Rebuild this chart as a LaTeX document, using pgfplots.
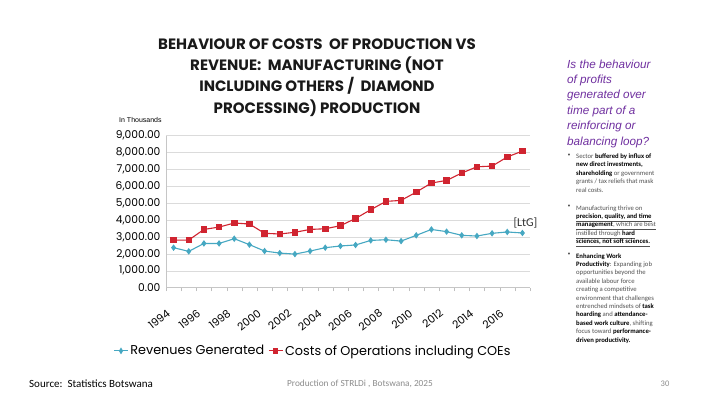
\documentclass[border=0pt]{standalone}
\usepackage{pgfplots}
\pgfplotsset{compat=1.18}
\usepackage{fontspec}
\setmainfont{Carlito}
\newfontfamily\chartfont{Poppins}
\newfontfamily\titlefont{Poppins}
\newfontfamily\arialfont{Liberation Sans}
\newfontfamily\dejavu{DejaVu Sans}
\definecolor{revcol}{RGB}{70,168,194}
\definecolor{costcol}{RGB}{208,36,48}
\definecolor{qpurple}{RGB}{112,48,160}
\definecolor{bodygray}{RGB}{80,80,80}
\newcommand{\B}[1]{{\bfseries\color{black}#1}}
\begin{document}
\begin{tikzpicture}
\useasboundingbox[fill=white] (0pt,0pt) rectangle (710pt,399pt);
% title
\node[font=\titlefont\bfseries\fontsize{15}{21.4}\selectfont, align=center, text=black!90] at (317pt,321.5pt)
 {BEHAVIOUR OF COSTS\ \ OF PRODUCTION VS\\REVENUE:\ \ MANUFACTURING (NOT\\INCLUDING OTHERS / \ DIAMOND\\PROCESSING) PRODUCTION};
\node[font=\arialfont\fontsize{7}{8}\selectfont, anchor=west, inner sep=0] at (119pt,279pt) {In Thousands};

\begin{axis}[
  at={(166pt,111.3pt)}, anchor=south west,
  scale only axis, width=364pt, height=152pt,
  xmin=1993.5, xmax=2017.5, ymin=0, ymax=9000,
  ytick={0,1000,...,9000},
  xtick={1994,1996,...,2016},
  minor xtick={1993.5,1994.5,...,2017.5},
  x tick label style={/pgf/number format/1000 sep={}},
  yticklabel={\pgfmathprintnumber[fixed,fixed zerofill,precision=2,1000 sep={,}]{\tick}},
  /pgf/number format/assume math mode=true,
  axis x line*=bottom, axis y line*=left,
  axis line style={gray!45},
  ymajorgrids, grid style={gray!28, line width=0.6pt},
  major tick length=0pt, minor tick length=3.5pt, tick align=outside,
  minor x tick style={gray!50},
  tick label style={font=\chartfont\fontsize{10.7}{12}\selectfont},
  xticklabel style={xshift=-5pt, yshift=-24pt, rotate=38, anchor=east, inner sep=0pt},
  yticklabel style={xshift=-2pt},
  legend style={at={(0.404,-0.416)}, anchor=center, draw=none, fill=none,
    legend columns=2, font=\chartfont\fontsize{12.8}{13}\selectfont,
    /tikz/every even column/.append style={column sep=2pt}},
  legend image post style={xscale=0.8},
  legend cell align=left,
  clip=false,
]
\addplot[color=revcol, line width=1.1pt, mark=diamond*, mark size=2.4pt, mark options={fill=revcol}] coordinates {
(1994,2370)(1995,2150)(1996,2620)(1997,2620)(1998,2900)(1999,2550)(2000,2170)(2001,2050)
(2002,1990)(2003,2170)(2004,2370)(2005,2470)(2006,2530)(2007,2800)(2008,2840)(2009,2760)
(2010,3100)(2011,3450)(2012,3320)(2013,3100)(2014,3060)(2015,3220)(2016,3300)(2017,3240)};
\addlegendentry{Revenues Generated}
\addplot[color=costcol, line width=1.1pt, mark=square*, mark size=2.7pt, mark options={fill=costcol}] coordinates {
(1994,2820)(1995,2820)(1996,3450)(1997,3590)(1998,3830)(1999,3770)(2000,3220)(2001,3180)
(2002,3280)(2003,3450)(2004,3490)(2005,3670)(2006,4100)(2007,4620)(2008,5110)(2009,5170)
(2010,5660)(2011,6200)(2012,6350)(2013,6790)(2014,7160)(2015,7200)(2016,7740)(2017,8090)};
\addlegendentry{Costs of Operations including COEs}
\node[font=\fontsize{12}{13}\selectfont, text=black!80] at (axis cs:2017.2,3830) {[LtG]};
\end{axis}

% right panel
\node[anchor=north west, align=left, inner sep=0, font=\arialfont\itshape\fontsize{11.7}{15.4}\selectfont, text=qpurple] at (567pt,339.5pt)
 {Is the behaviour\\of profits\\generated over\\time part of a\\reinforcing or\\balancing loop?};

\begin{scope}[every node/.style={anchor=north west, align=left, inner sep=0, font=\fontsize{6.7}{8.4}\selectfont, text=bodygray}]
\node at (567pt,245.5pt) {{\dejavu •}};
\node at (576pt,245.5pt) {Sector \B{buffered by influx of}\\\B{new direct investments,}\\\B{shareholding} or government\\grants / tax reliefs that mask\\real costs.};
\node at (567pt,193.8pt) {{\dejavu •}};
\node at (576pt,193.8pt) {Manufacturing thrive on\\\underline{\B{precision, quality, and time}}\\\underline{\B{management}, which are best}\\\underline{instilled through \B{hard}}\\\underline{\B{sciences, not soft sciences.}}};
\node at (567pt,145.8pt) {{\dejavu •}};
\node at (576pt,145.8pt) {\B{Enhancing Work}\\\B{Productivity}: Expanding job\\opportunities beyond the\\available labour force\\creating a competitive\\environment that challenges\\entrenched mindsets of \B{task}\\\B{hoarding} and \B{attendance-}\\\B{based work culture}, shifting\\focus toward \B{performance-}\\\B{driven productivity.}};
\end{scope}

% footer
\node[anchor=west, inner sep=0, font=\fontsize{11}{12}\selectfont] at (29pt,15pt) {Source:\ \ Statistics Botswana};
\node[inner sep=0, font=\fontsize{9.3}{10}\selectfont, text=gray!90] at (360pt,15pt) {Production of STRLDi , Botswana, 2025};
\node[inner sep=0, font=\fontsize{8.5}{9}\selectfont, text=gray!90] at (665pt,15pt) {30};
\end{tikzpicture}
\end{document}
